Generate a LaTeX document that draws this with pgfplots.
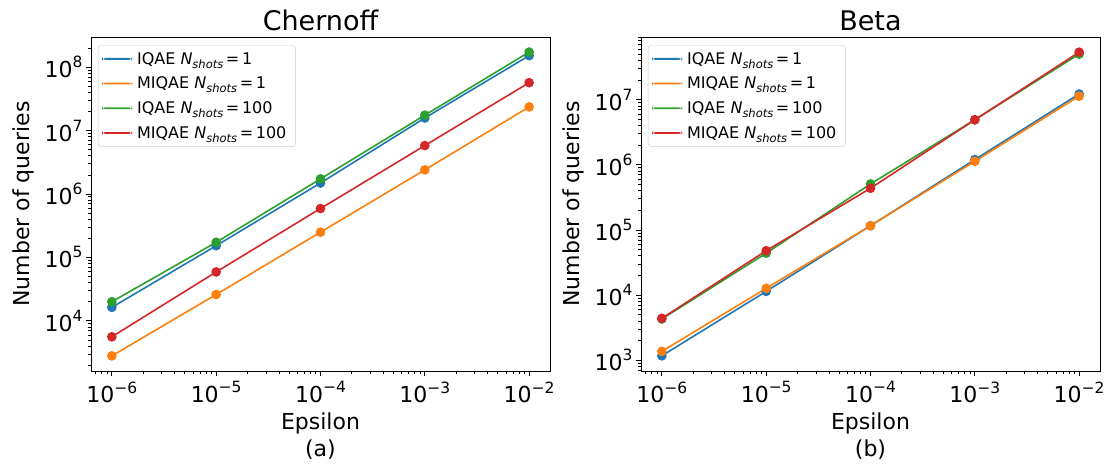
\documentclass[border=0pt]{standalone}
\usepackage{fontspec}
\setmainfont{DejaVu Sans}
\usepackage{pgfplots}
\pgfplotsset{compat=1.18}
\definecolor{c0}{HTML}{1F77B4}
\definecolor{c1}{HTML}{FF7F0E}
\definecolor{c2}{HTML}{2CA02C}
\definecolor{c3}{HTML}{D62728}
\newcommand{\tp}[1]{10\raisebox{0.45em}{\fontsize{15.5pt}{16pt}\selectfont #1}}
\newcommand{\Ns}{\textit{N}\raisebox{-0.25em}{\fontsize{11.5pt}{12pt}\selectfont\textit{shots}}}
\pgfplotsset{
    scale only axis, width=459pt, height=334pt,
    tick align=outside, xtick pos=left, ytick pos=left,
    major tick length=5pt, minor tick length=3pt,
    every tick/.style={black, line width=0.8pt},
    axis line style={line width=0.8pt},
    ticklabel style={font=\fontsize{22pt}{24pt}\selectfont},
    xticklabel style={yshift=-2pt},
    label style={font=\fontsize{22pt}{27pt}\selectfont},
    xlabel style={align=center, yshift=-3pt, font=\fontsize{22pt}{27pt}\selectfont},
    ylabel style={yshift=4pt},
    title style={font=\fontsize{27pt}{30pt}\selectfont, yshift=-3pt},
    legend cell align=left,
    legend style={at={(0.015,0.976)}, anchor=north west, draw=black!20,
      rounded corners=3pt, fill=white,
      font=\fontsize{16pt}{18pt}\selectfont, row sep=7.3pt,
      inner xsep=4pt, inner ysep=5pt,
      nodes={inner xsep=5pt}},
    legend image code/.code={\path[#1, mark=none, draw=none, fill] (0pt,-0.9pt) rectangle (30pt,0.9pt);},
    every axis plot/.append style={line width=1.6pt, mark=*, mark size=4pt},
}
\begin{document}
\begin{tikzpicture}
\useasboundingbox (0,0) rectangle (1109pt,466pt);
\begin{axis}[xmode=log, ymode=log, at={(91pt,95pt)}, anchor=south west,
  xmin=6.30957e-7, xmax=1.58489e-2,
  xtick={1e-6,1e-5,1e-4,1e-3,1e-2},
  xticklabels={\tp{−6},\tp{−5},\tp{−4},\tp{−3},\tp{−2}},
  minor xtick={7e-7,8e-7,9e-7,2e-6,3e-6,4e-6,5e-6,6e-6,7e-6,8e-6,9e-6,2e-5,3e-5,4e-5,5e-5,6e-5,7e-5,8e-5,9e-5,2e-4,3e-4,4e-4,5e-4,6e-4,7e-4,8e-4,9e-4,2e-3,3e-3,4e-3,5e-3,6e-3,7e-3,8e-3,9e-3},
  title={Chernoff}, xlabel={Epsilon\\(a)}, ylabel={Number of queries},
  ymin=1618, ymax=2.99e8,
  ytick={1e4,1e5,1e6,1e7,1e8},
  yticklabels={\tp{4},\tp{5},\tp{6},\tp{7},\tp{8}},
  minor ytick={2e3,3e3,4e3,5e3,6e3,7e3,8e3,9e3,2e4,3e4,4e4,5e4,6e4,7e4,8e4,9e4,2e5,3e5,4e5,5e5,6e5,7e5,8e5,9e5,2e6,3e6,4e6,5e6,6e6,7e6,8e6,9e6,2e7,3e7,4e7,5e7,6e7,7e7,8e7,9e7,2e8}]
\addplot[c0] coordinates {(1e-6,1.63e4)(1e-5,1.53e5)(1e-4,1.49e6)(1e-3,1.58e7)(1e-2,1.52e8)};
\addlegendentry{IQAE \Ns\,=\,1}
\addplot[c1] coordinates {(1e-6,2.8e3)(1e-5,2.6e4)(1e-4,2.5e5)(1e-3,2.4e6)(1e-2,2.36e7)};
\addlegendentry{MIQAE \Ns\,=\,1}
\addplot[c2] coordinates {(1e-6,2.0e4)(1e-5,1.73e5)(1e-4,1.73e6)(1e-3,1.75e7)(1e-2,1.73e8)};
\addlegendentry{IQAE \Ns\,=\,100}
\addplot[c3] coordinates {(1e-6,5.6e3)(1e-5,5.9e4)(1e-4,5.9e5)(1e-3,5.8e6)(1e-2,5.7e7)};
\addlegendentry{MIQAE \Ns\,=\,100}
\end{axis}
\begin{axis}[xmode=log, ymode=log, at={(641pt,95pt)}, anchor=south west,
  xmin=6.30957e-7, xmax=1.58489e-2,
  xtick={1e-6,1e-5,1e-4,1e-3,1e-2},
  xticklabels={\tp{−6},\tp{−5},\tp{−4},\tp{−3},\tp{−2}},
  minor xtick={7e-7,8e-7,9e-7,2e-6,3e-6,4e-6,5e-6,6e-6,7e-6,8e-6,9e-6,2e-5,3e-5,4e-5,5e-5,6e-5,7e-5,8e-5,9e-5,2e-4,3e-4,4e-4,5e-4,6e-4,7e-4,8e-4,9e-4,2e-3,3e-3,4e-3,5e-3,6e-3,7e-3,8e-3,9e-3},
  title={Beta}, xlabel={Epsilon\\(b)}, ylabel={Number of queries},
  ymin=684, ymax=9.14e7,
  ytick={1e3,1e4,1e5,1e6,1e7},
  yticklabels={\tp{3},\tp{4},\tp{5},\tp{6},\tp{7}},
  minor ytick={7e2,8e2,9e2,2e3,3e3,4e3,5e3,6e3,7e3,8e3,9e3,2e4,3e4,4e4,5e4,6e4,7e4,8e4,9e4,2e5,3e5,4e5,5e5,6e5,7e5,8e5,9e5,2e6,3e6,4e6,5e6,6e6,7e6,8e6,9e6,2e7,3e7,4e7,5e7,6e7,7e7,8e7,9e7}]
\addplot[c0] coordinates {(1e-6,1.17e3)(1e-5,1.14e4)(1e-4,1.16e5)(1e-3,1.2e6)(1e-2,1.22e7)};
\addlegendentry{IQAE \Ns\,=\,1}
\addplot[c1] coordinates {(1e-6,1.37e3)(1e-5,1.27e4)(1e-4,1.16e5)(1e-3,1.13e6)(1e-2,1.13e7)};
\addlegendentry{MIQAE \Ns\,=\,1}
\addplot[c2] coordinates {(1e-6,4.3e3)(1e-5,4.4e4)(1e-4,5.07e5)(1e-3,4.9e6)(1e-2,5.0e7)};
\addlegendentry{IQAE \Ns\,=\,100}
\addplot[c3] coordinates {(1e-6,4.4e3)(1e-5,4.8e4)(1e-4,4.36e5)(1e-3,4.9e6)(1e-2,5.35e7)};
\addlegendentry{MIQAE \Ns\,=\,100}
\end{axis}
\end{tikzpicture}
\end{document}
